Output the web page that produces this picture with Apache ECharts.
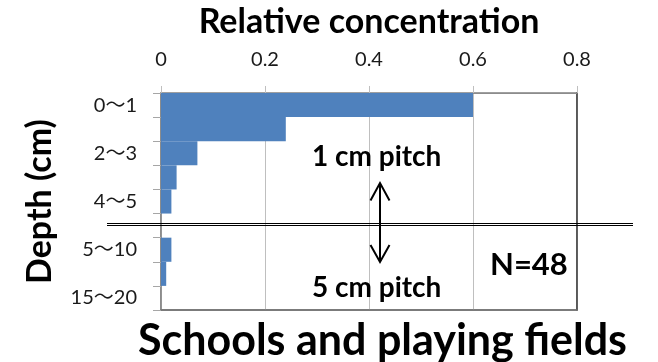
<!DOCTYPE html>
<html>
<head>
<meta charset="utf-8">
<script src="https://cdn.jsdelivr.net/npm/echarts@6/dist/echarts.min.js"></script>
<style>
html,body{margin:0;padding:0;background:#fff;}
#chart{width:658px;height:362px;}
</style>
</head>
<body>
<div id="chart"></div>
<script>
// Depth categories (top to bottom); '' is the axis-break gap row
const categories = ['0～1', '1～2', '2～3', '3～4', '4～5', '', '5～10', '10～15', '15～20'];
// Relative concentration per depth layer
const values = [0.60, 0.24, 0.07, 0.03, 0.02, null, 0.02, 0.01, 0];
// Value-axis ticks
const xTicks = [0, 0.2, 0.4, 0.6, 0.8];

const FONT = 'Lato, "Noto Sans CJK JP", sans-serif';
const chart = echarts.init(document.getElementById('chart'), null, {renderer: 'canvas'});

const option = {
  animation: false,
  backgroundColor: '#ffffff',
  grid: {left: 161, top: 90, right: 81, bottom: 52, containLabel: false,
    show: true, borderColor: '#808080', borderWidth: 1.5, backgroundColor: 'transparent'},
  xAxis: [
    {
      type: 'value', position: 'top',
      min: xTicks[0], max: xTicks[xTicks.length - 1], interval: xTicks[1] - xTicks[0],
      name: 'Relative concentration', nameLocation: 'middle', nameGap: 54,
      nameTextStyle: {fontFamily: FONT, fontWeight: 'bold', fontSize: 34, color: '#000'},
      axisLine: {show: true, onZero: false, lineStyle: {color: '#8c8c8c', width: 1}},
      axisTick: {show: true, inside: false, length: 7, lineStyle: {color: '#bfbfbf'}},
      axisLabel: {fontFamily: FONT, fontSize: 20, color: '#1a1a1a', margin: 23,
        formatter: v => (v === 0 ? '0' : v.toFixed(1))},
      splitLine: {show: true, lineStyle: {color: '#bfbfbf', width: 1}}
    },
    {
      type: 'value', position: 'bottom',
      min: xTicks[0], max: xTicks[xTicks.length - 1],
      axisLine: {show: true, onZero: false, lineStyle: {color: '#707070', width: 1.5}},
      axisTick: {show: false}, axisLabel: {show: false}, splitLine: {show: false}
    }
  ],
  yAxis: [
    {
      type: 'category', inverse: true, data: categories,
      name: 'Depth (cm)', nameLocation: 'middle', nameGap: 104, nameRotate: 90,
      nameTextStyle: {fontFamily: FONT, fontWeight: 'bold', fontSize: 34, color: '#000'},
      axisLine: {show: true, onZero: false, lineStyle: {color: '#868686', width: 1.5}},
      axisTick: {show: true, interval: 0, alignWithLabel: false, length: 8, lineStyle: {color: '#a6a6a6'}},
      axisLabel: {fontFamily: FONT, fontSize: 20, color: '#1a1a1a', margin: 24, interval: 1},
      splitLine: {show: false}
    },
    {
      type: 'category', inverse: true, data: categories, position: 'right',
      axisLine: {show: true, onZero: false, lineStyle: {color: '#404040', width: 1.5}},
      axisTick: {show: false}, axisLabel: {show: false}, splitLine: {show: false}
    }
  ],
  series: [
    {
      type: 'bar', xAxisIndex: 0, yAxisIndex: 0,
      data: values, barCategoryGap: '0%',
      itemStyle: {color: '#4f81bd'}
    }
  ],
  graphic: [
    // axis-break double line
    {type: 'line', z: 100, shape: {x1: 107, y1: 223.5, x2: 633, y2: 223.5}, style: {stroke: '#000', lineWidth: 1}},
    {type: 'line', z: 100, shape: {x1: 107, y1: 225.5, x2: 633, y2: 225.5}, style: {stroke: '#000', lineWidth: 1}},
    // double-headed arrow
    {type: 'line', z: 100, shape: {x1: 380, y1: 183, x2: 380, y2: 262}, style: {stroke: '#000', lineWidth: 2}},
    {type: 'polyline', z: 100, shape: {points: [[370.5, 200.5], [380, 183], [389.5, 200.5]]}, style: {stroke: '#000', lineWidth: 2, fill: null}},
    {type: 'polyline', z: 100, shape: {points: [[370.5, 245], [380, 262], [389.5, 245]]}, style: {stroke: '#000', lineWidth: 2, fill: null}},
    {type: 'text', z: 100, x: 312, y: 157,
      style: {text: '1 cm pitch', font: 'bold 28px ' + FONT, fill: '#000', align: 'left', verticalAlign: 'middle'}},
    {type: 'text', z: 100, x: 312, y: 288,
      style: {text: '5 cm pitch', font: 'bold 28px ' + FONT, fill: '#000', align: 'left', verticalAlign: 'middle'}},
    {type: 'text', z: 100, x: 490, y: 265,
      style: {text: 'N=48', font: 'bold 31px ' + FONT, fill: '#000', align: 'left', verticalAlign: 'middle'}},
    {type: 'text', z: 100, x: 382.5, y: 341,
      style: {text: 'Schools and playing fields', font: 'bold 43px ' + FONT, fill: '#000', align: 'center', verticalAlign: 'middle'}}
  ]
};
chart.setOption(option);
</script>
</body>
</html>
